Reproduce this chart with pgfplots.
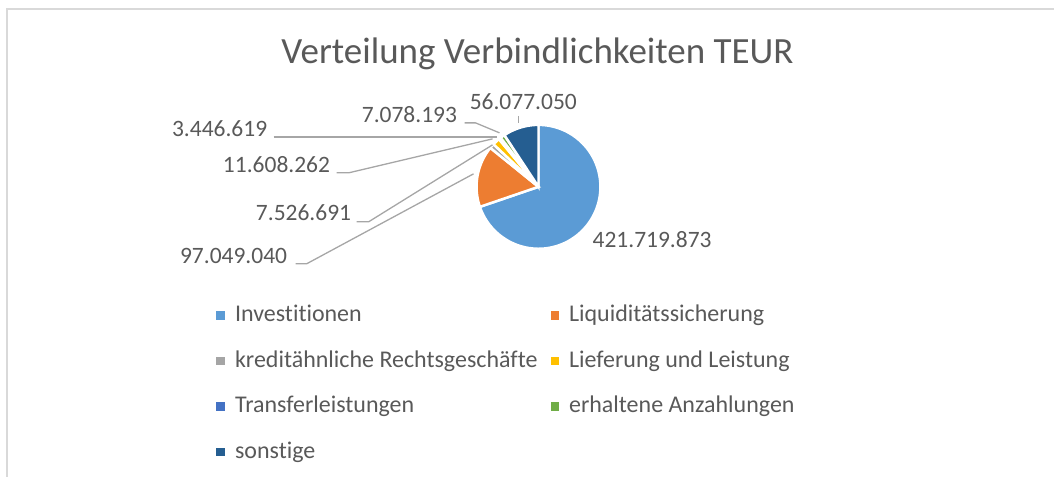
\documentclass[border=0pt]{standalone}
\usepackage{pgfplots}
\usepackage{pgfplotstable}
\pgfplotsset{compat=1.18}
\usepackage{fontspec}
\setmainfont{Carlito}[Ligatures=NoCommon]
\definecolor{pieA}{HTML}{5B9BD5}
\definecolor{pieB}{HTML}{ED7D31}
\definecolor{pieC}{HTML}{A5A5A5}
\definecolor{pieD}{HTML}{FFC000}
\definecolor{pieE}{HTML}{4472C4}
\definecolor{pieF}{HTML}{70AD47}
\definecolor{pieG}{HTML}{255E91}
\definecolor{txt}{HTML}{595959}
\definecolor{lead}{HTML}{A6A6A6}
\definecolor{frame}{HTML}{D9D9D9}

\pgfplotstableread{
idx value
0 421719873
1 97049040
2 7526691
3 11608262
4 3446619
5 7078193
6 56077050
}\piedata

% cumulative angles (clockwise from 12 o'clock)
\def\pietotal{0}
\pgfplotsforeachungrouped \i in {0,...,6}{%
  \pgfplotstablegetelem{\i}{value}\of\piedata
  \xdef\pietotal{\fpeval{\pietotal+\pgfplotsretval}}%
}
\def\cum{0}
\pgfplotsforeachungrouped \i in {0,...,6}{%
  \pgfplotstablegetelem{\i}{value}\of\piedata
  \expandafter\xdef\csname pa\i\endcsname{\fpeval{round(\cum,4)}}%
  \xdef\cum{\fpeval{\cum+360*\pgfplotsretval/\pietotal}}%
  \expandafter\xdef\csname pb\i\endcsname{\fpeval{round(\cum,4)}}%
}
\def\cx{539}
\def\cy{187}
\def\R{62}

\begin{document}
\begin{tikzpicture}
\begin{axis}[
  scale only axis, width=1055pt, height=477pt,
  xmin=0, xmax=1055, ymin=0, ymax=477, y dir=reverse,
  hide axis, clip=false,
  legend columns=2, legend cell align=left,
  legend image code/.code={\path[#1, draw=none] (0pt,-3.6pt) rectangle (8.6pt,5pt);},
  legend style={draw=none, fill=none, at={(axis cs:216.7,306)}, anchor=north west,
    inner sep=0pt, outer sep=0pt,
    font=\fontsize{24}{29}\selectfont, text=txt,
    row sep=24.5pt, column sep=10pt,
    nodes={inner sep=0pt, text height=16pt, text depth=5pt},
    /tikz/every even column/.append style={column sep=13pt}},
]
\path (axis cs:0,0) rectangle (axis cs:1055,477);
% frame
\draw[frame, line width=2pt] (axis cs:7,477) -- (axis cs:7,9) -- (axis cs:1055,9);

\addplot[fill=pieA, draw=white, line width=2.5pt, domain=\csname pa0\endcsname:\csname pb0\endcsname, samples=90]
  ({\cx+\R*sin(x)},{\cy-\R*cos(x)}) -- (axis cs:\cx,\cy) -- cycle;
\addlegendentry{Investitionen}
\addplot[fill=pieB, draw=white, line width=2.5pt, domain=\csname pa1\endcsname:\csname pb1\endcsname, samples=30]
  ({\cx+\R*sin(x)},{\cy-\R*cos(x)}) -- (axis cs:\cx,\cy) -- cycle;
\addlegendentry{Liquiditätssicherung}
\addplot[fill=pieC, draw=white, line width=2.5pt, domain=\csname pa2\endcsname:\csname pb2\endcsname, samples=5]
  ({\cx+\R*sin(x)},{\cy-\R*cos(x)}) -- (axis cs:\cx,\cy) -- cycle;
\addlegendentry{kreditähnliche Rechtsgeschäfte}
\addplot[fill=pieD, draw=white, line width=2.5pt, domain=\csname pa3\endcsname:\csname pb3\endcsname, samples=5]
  ({\cx+\R*sin(x)},{\cy-\R*cos(x)}) -- (axis cs:\cx,\cy) -- cycle;
\addlegendentry{Lieferung und Leistung}
\addplot[fill=pieE, draw=white, line width=2.5pt, domain=\csname pa4\endcsname:\csname pb4\endcsname, samples=3]
  ({\cx+\R*sin(x)},{\cy-\R*cos(x)}) -- (axis cs:\cx,\cy) -- cycle;
\addlegendentry{Transferleistungen}
\addplot[fill=pieF, draw=white, line width=2.5pt, domain=\csname pa5\endcsname:\csname pb5\endcsname, samples=5]
  ({\cx+\R*sin(x)},{\cy-\R*cos(x)}) -- (axis cs:\cx,\cy) -- cycle;
\addlegendentry{erhaltene Anzahlungen}
\addplot[fill=pieG, draw=white, line width=2.5pt, domain=\csname pa6\endcsname:\csname pb6\endcsname, samples=20]
  ({\cx+\R*sin(x)},{\cy-\R*cos(x)}) -- (axis cs:\cx,\cy) -- cycle;
\addlegendentry{sonstige}

% title
\node[anchor=base, text=txt, font=\fontsize{37}{44}\selectfont, inner sep=0pt] at (axis cs:538,64) {Verteilung Verbindlichkeiten TEUR};

% leader lines
\draw[lead, line width=1.3pt] (axis cs:296,264) -- (axis cs:307,264) -- (axis cs:474,174);
\draw[lead, line width=1.3pt] (axis cs:357,222) -- (axis cs:369,222) -- (axis cs:493,145);
\draw[lead, line width=1.3pt] (axis cs:337,173) -- (axis cs:349,173) -- (axis cs:493,139);
\draw[lead, line width=1.3pt] (axis cs:274,137) -- (axis cs:497,137);
\draw[lead, line width=1.3pt] (axis cs:465,123) -- (axis cs:476,123) -- (axis cs:500,133);
\draw[lead, line width=1.3pt] (axis cs:519,116) -- (axis cs:519,123);

% data labels
\begin{scope}[every node/.style={anchor=west, text=txt, font=\fontsize{23.5}{28}\selectfont, inner sep=0pt}]
\node at (axis cs:593,240) {421.719.873};
\node at (axis cs:180,256) {97.049.040};
\node at (axis cs:256,213) {7.526.691};
\node at (axis cs:223,165) {11.608.262};
\node at (axis cs:172,129) {3.446.619};
\node at (axis cs:362,115) {7.078.193};
\node at (axis cs:470,102) {56.077.050};
\end{scope}
\end{axis}
\end{tikzpicture}
\end{document}
